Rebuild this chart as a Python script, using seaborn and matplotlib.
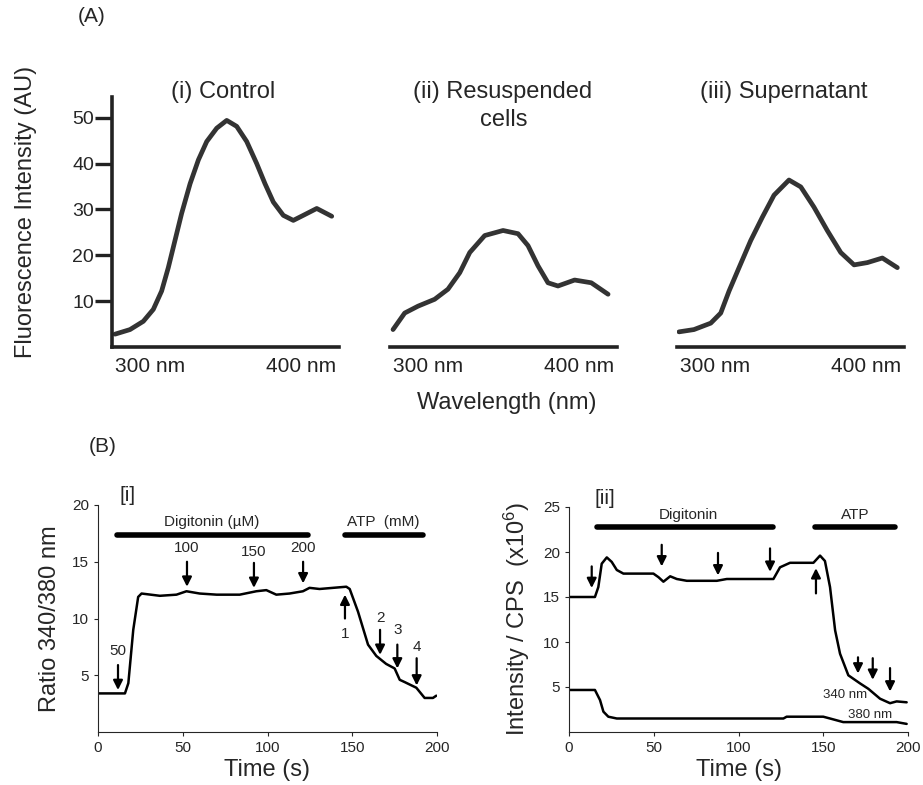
import matplotlib
matplotlib.use("Agg")
import matplotlib.pyplot as plt
import seaborn as sns

# --- (A) emission spectra ---
ctrl_wl = [277, 286.9, 295.7, 302.3, 307.8, 312.2, 316.6, 321, 326.6, 332.1, 337.6, 344.2, 350.8, 357.4,
           364, 370.6, 376.1, 381.6, 388.2, 394.8, 401.4, 410.3, 420.2]
ctrl_int = [2.8, 3.8, 5.6, 8.2, 12.2, 17.3, 23.2, 29.1, 35.6, 40.8, 44.8, 47.7, 49.4, 48.1,
            44.8, 40.0, 35.6, 31.6, 28.7, 27.6, 28.7, 30.2, 28.5]

resus_wl = [277, 284.7, 293.5, 304.5, 313.3, 321.1, 327.7, 337.6, 349.7, 359.6, 366.2, 372.8, 379.4,
            386, 397, 408, 419.1]
resus_int = [3.8, 7.4, 8.9, 10.4, 12.6, 16.2, 20.6, 24.3, 25.4, 24.7, 22.1, 17.7, 14.0,
             13.3, 14.6, 14.0, 11.5]

super_wl = [276.3, 286.2, 297.3, 303.9, 309.4, 316, 323.7, 331.4, 339.1, 349, 356.8, 365.5, 374.3,
            383.2, 392, 400.8, 410.7, 420.6]
super_int = [3.3, 3.8, 5.2, 7.4, 12.2, 17.3, 23.2, 28.3, 33.1, 36.4, 34.9, 30.5, 25.4,
             20.6, 17.9, 18.4, 19.4, 17.3]

# --- (B)[i] ratio trace ---
ratio_t = [0, 15.9, 17.9, 20.8, 23.7, 25.7, 36.5, 46.3, 52.2, 60, 70, 83.6, 93.4, 99.3, 105.2, 113, 120.9,
           124.8, 130.7, 146.5, 148.5, 153.4, 159.3, 164.2, 170, 175, 178, 180.9, 187.8, 192.7, 197.6, 199.6]
ratio_val = [3.4, 3.4, 4.3, 9.0, 11.9, 12.2, 12.0, 12.1, 12.4, 12.2, 12.1, 12.1, 12.4, 12.5, 12.1, 12.2, 12.4,
             12.7, 12.6, 12.8, 12.6, 10.6, 7.7, 6.7, 6.0, 5.6, 4.6, 4.4, 3.9, 3.0, 3.0, 3.2]

# --- (B)[ii] intensity traces ---
i340_t = [0, 15.3, 17.3, 19.3, 22.3, 25.2, 28.2, 32.1, 49.8, 52.8, 55.7, 59.7, 63.6, 69.5, 87.2, 93.1, 120.6,
          124.5, 130.4, 144.2, 148.1, 151, 154, 157, 159.9, 164.8, 171.7, 176.6, 183.5, 189.4, 193.3, 199.2]
i340_val = [15.0, 15.0, 16.1, 18.7, 19.4, 18.9, 18.0, 17.6, 17.6, 17.2, 16.7, 17.3, 17.0, 16.8, 16.8, 17.0, 17.0,
            18.3, 18.8, 18.8, 19.6, 19.0, 16.1, 11.3, 8.7, 6.3, 5.4, 4.8, 3.7, 3.2, 3.4, 3.3]
i380_t = [0, 15.3, 18.3, 20.3, 23.2, 28.2, 126.5, 128.4, 150, 154, 161.8, 193.3, 199.2]
i380_val = [4.67, 4.67, 3.55, 2.26, 1.7, 1.5, 1.5, 1.7, 1.7, 1.5, 1.1, 1.1, 0.9]

# arrows: (x, y_tail, y_head, label, label_y)
ratio_arrows = [(11.8, 5.9, 3.7, "50", 7.1), (52.5, 15.0, 12.8, "100", 16.2),
                (92.0, 14.9, 12.7, "150", 15.9), (121.0, 15.0, 13.1, "200", 16.2),
                (145.7, 10.0, 12.1, "1", 8.6), (166.4, 9.0, 6.8, "2", 10.0),
                (176.6, 7.7, 5.6, "3", 9.0), (188.0, 6.5, 4.1, "4", 7.5)]
int_arrows = [(13.4, 18.4, 16.0), (54.7, 20.8, 18.4), (87.9, 19.9, 17.4), (118.6, 20.4, 17.8),
              (145.7, 15.4, 18.2), (170.5, 8.3, 6.5), (179.2, 8.2, 5.8), (189.4, 7.1, 4.5)]

sns.set_style("ticks")
plt.rcParams["font.family"] = ["Liberation Sans", "DejaVu Sans"]
plt.rcParams["mathtext.default"] = "regular"

fig = plt.figure(figsize=(9.23, 7.85), dpi=100)
W, H = 923, 785


def add_ax(l, r, b, t):
    return fig.add_axes([l / W, 1 - b / H, (r - l) / W, (b - t) / H])


curve_col = "#333333"
spec_data = [(ctrl_wl, ctrl_int), (resus_wl, resus_int), (super_wl, super_int)]
lefts = [112, 390, 677]
for k, (wl, iv) in enumerate(spec_data):
    ax = add_ax(lefts[k], lefts[k] + 227, 347, 97)
    sns.lineplot(x=wl, y=iv, ax=ax, color=curve_col, lw=3.4, sort=False,
                 solid_joinstyle="round", solid_capstyle="round")
    ax.set_xlim(275, 425)
    ax.set_ylim(0, 54.5)
    for s in ["top", "right"]:
        ax.spines[s].set_visible(False)
    ax.spines["bottom"].set_linewidth(2.6)
    ax.spines["bottom"].set_color("#222222")
    ax.set_xticks([300, 400])
    ax.set_xticklabels(["300 nm", "400 nm"], fontsize=15, color="#222222")
    ax.tick_params(axis="x", length=0, pad=7)
    ax.set_xlabel("")
    if k == 0:
        ax.spines["left"].set_linewidth(2.6)
        ax.spines["left"].set_color("#222222")
        ax.set_yticks([10, 20, 30, 40, 50])
        ax.tick_params(axis="y", length=12, width=2.4, color="#222222", labelsize=14, pad=1)
    else:
        ax.spines["left"].set_visible(False)
        ax.set_yticks([])

fig.text(223 / W, 1 - 92 / H, "(i) Control", fontsize=17, ha="center", va="center")
fig.text(503 / W, 1 - 92 / H, "(ii) Resuspended", fontsize=17, ha="center", va="center")
fig.text(504 / W, 1 - 120 / H, "cells", fontsize=17, ha="center", va="center")
fig.text(784 / W, 1 - 92 / H, "(iii) Supernatant", fontsize=17, ha="center", va="center")

fig.text(78 / W, 1 - 16 / H, "(A)", fontsize=15, va="center")
fig.text(26 / W, 1 - 212 / H, "Fluorescence Intensity (AU)", fontsize=17, rotation=90, va="center", ha="center")
fig.text(507 / W, 1 - 403 / H, "Wavelength (nm)", fontsize=17, va="center", ha="center")
fig.text(103 / W, 1 - 447 / H, "(B)", fontsize=15, va="center", ha="center")

arrow_kw = dict(arrowstyle="-|>", color="black", lw=1.6, mutation_scale=14, shrinkA=0, shrinkB=0)

# --- (B)[i] ---
ax1 = add_ax(98, 437, 732, 505)
sns.lineplot(x=ratio_t, y=ratio_val, ax=ax1, color="black", lw=1.8, sort=False)
ax1.set_xlim(0, 200)
ax1.set_ylim(0, 20)
ax1.set_xticks([0, 50, 100, 150, 200])
ax1.set_yticks([5, 10, 15, 20])
sns.despine(ax=ax1)
ax1.tick_params(length=3, width=0.8, labelsize=11)
ax1.set_xlabel("Time (s)", fontsize=17, labelpad=3)
ax1.set_ylabel("Ratio 340/380 nm", fontsize=17, labelpad=8)
ax1.plot([11.2, 124], [17.4, 17.4], color="black", lw=4, clip_on=False, solid_capstyle="round")
ax1.plot([145.7, 191.8], [17.4, 17.4], color="black", lw=4, clip_on=False, solid_capstyle="round")
ax1.text(67, 18.5, "Digitonin (\u00b5M)", fontsize=11, ha="center", va="center")
ax1.text(168, 18.5, "ATP  (mM)", fontsize=11, ha="center", va="center")
ax1.text(17.7, 20.8, "[i]", fontsize=15, ha="center", va="center")
for x, yt, yh, lab, ly in ratio_arrows:
    ax1.annotate("", xy=(x, yh), xytext=(x, yt), arrowprops=arrow_kw)
    ax1.text(x, ly, lab, fontsize=11, ha="center", va="center")

# --- (B)[ii] ---
ax2 = add_ax(569, 908, 732, 507)
sns.lineplot(x=i340_t, y=i340_val, ax=ax2, color="black", lw=1.8, sort=False)
sns.lineplot(x=i380_t, y=i380_val, ax=ax2, color="black", lw=1.8, sort=False)
ax2.set_xlim(0, 200)
ax2.set_ylim(0, 25)
ax2.set_xticks([0, 50, 100, 150, 200])
ax2.set_yticks([5, 10, 15, 20, 25])
sns.despine(ax=ax2)
ax2.tick_params(length=3, width=0.8, labelsize=11)
ax2.set_xlabel("Time (s)", fontsize=17, labelpad=3)
ax2.set_ylabel("Intensity / CPS  (x10$^6$)", fontsize=17, labelpad=8)
ax2.plot([16.5, 120.4], [22.8, 22.8], color="black", lw=4, clip_on=False, solid_capstyle="round")
ax2.plot([145, 192.5], [22.8, 22.8], color="black", lw=4, clip_on=False, solid_capstyle="round")
ax2.text(70.2, 24.1, "Digitonin", fontsize=11, ha="center", va="center")
ax2.text(168.7, 24.1, "ATP", fontsize=11, ha="center", va="center")
ax2.text(21.2, 26.0, "[ii]", fontsize=15, ha="center", va="center")
ax2.text(162.8, 4.1, "340 nm", fontsize=9.5, ha="center", va="center")
ax2.text(177.6, 1.9, "380 nm", fontsize=9.5, ha="center", va="center")
for x, yt, yh in int_arrows:
    ax2.annotate("", xy=(x, yh), xytext=(x, yt), arrowprops=arrow_kw)

fig.savefig("out.png", dpi=100)
